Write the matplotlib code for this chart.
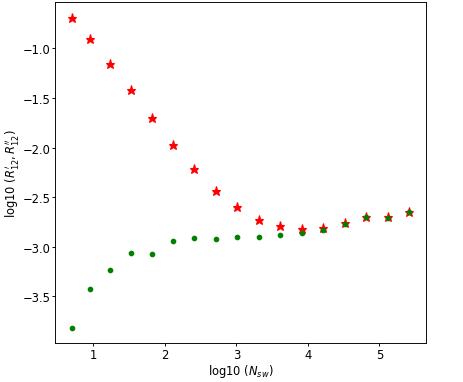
import matplotlib
matplotlib.use("Agg")
import matplotlib.pyplot as plt

log_nsw = [0.699, 0.954, 1.230, 1.519, 1.813, 2.111, 2.410, 2.710, 3.010,
           3.311, 3.612, 3.913, 4.214, 4.515, 4.816, 5.117, 5.418]
r1 = [-0.695, -0.906, -1.158, -1.423, -1.703, -1.972, -2.220, -2.439, -2.603,
      -2.728, -2.791, -2.821, -2.811, -2.764, -2.698, -2.704, -2.653]
r2 = [-3.820, -3.430, -3.238, -3.060, -3.077, -2.946, -2.912, -2.919, -2.905,
      -2.899, -2.885, -2.865, -2.832, -2.768, -2.700, -2.710, -2.653]

plt.rcParams.update({
    "font.size": 10,
    "xtick.major.size": 2.6,
    "ytick.major.size": 2.6,
    "xtick.major.pad": 1.5,
    "ytick.major.pad": 1.5,
    "axes.labelpad": 1.5,
})

DPI = 83
fig = plt.figure(figsize=(463 / DPI, 383 / DPI), dpi=DPI)
ax = fig.add_axes([0.119, 0.102, 0.801, 0.890])
ax.plot(log_nsw, r1, linestyle="none", marker="*", color="red", markersize=8)
ax.plot(log_nsw, r2, linestyle="none", marker="o", color="green", markersize=3.9)
ax.set_xlim(0.464, 5.65)
ax.set_ylim(-3.97, -0.533)
ax.set_xticks([1, 2, 3, 4, 5])
ax.set_yticks([-1.0, -1.5, -2.0, -2.5, -3.0, -3.5])
ax.set_xlabel(r"log10 ($N_{sw}$)")
ax.set_ylabel(r"log10 ($R_{12}^{\prime}, R_{12}^{\prime\prime}$)")
fig.savefig("out.png", dpi=DPI)
